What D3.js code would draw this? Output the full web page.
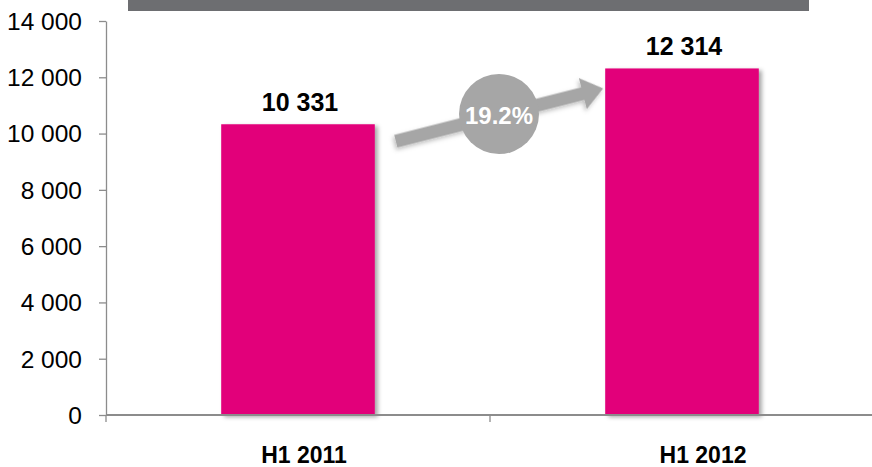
<!DOCTYPE html>
<html>
<head>
<meta charset="utf-8">
<script src="https://cdn.jsdelivr.net/npm/d3@7"></script>
<style>
  html, body { margin: 0; padding: 0; background: #fff; }
  svg { display: block; font-family: Arial, "Liberation Sans", sans-serif; }
</style>
</head>
<body>
<svg id="chart" width="872" height="467"></svg>
<script>
// Half-year totals
const categories = ["H1 2011", "H1 2012"];
const values = [10331, 12314];
const yTicks = [0, 2000, 4000, 6000, 8000, 10000, 12000, 14000];

const W = 872, H = 467;
const mLeft = 106, mRight = 874, mTop = 21, mBottom = 415;
const FONT = "Arial, 'Liberation Sans', sans-serif";

const svg = d3.select("#chart");

const defs = svg.append("defs");
const shadow = defs.append("filter").attr("id", "barShadow")
  .attr("x", "-10%").attr("y", "-10%").attr("width", "130%").attr("height", "130%");
shadow.append("feDropShadow").attr("dx", 3).attr("dy", 2).attr("stdDeviation", 2.2)
  .attr("flood-color", "#000").attr("flood-opacity", 0.35);
const arrowShadow = defs.append("filter").attr("id", "arrowShadow")
  .attr("x", "-20%").attr("y", "-40%").attr("width", "140%").attr("height", "180%");
arrowShadow.append("feDropShadow").attr("dx", -2).attr("dy", 2).attr("stdDeviation", 2)
  .attr("flood-color", "#000").attr("flood-opacity", 0.25);

const fmt = v => d3.format(",")(v).replace(/,/g, " ");

const x = d3.scaleBand().domain(categories).range([mLeft, mRight])
  .paddingInner(0.6).paddingOuter(0.3);
const xOuter = d3.scaleBand().domain(categories).range([mLeft, mRight]).padding(0);
// category captions sit on a slightly wider spacing than the bars
const xLabel = d3.scaleBand().domain(categories).range([104.5, 902.5]).padding(0);
const y = d3.scaleLinear().domain([0, 14000]).range([mBottom, mTop]);

// header strip
svg.append("rect").attr("x", 128).attr("y", 0).attr("width", 681).attr("height", 11)
  .attr("fill", "#6d6e71");

// y axis
const yAxis = svg.append("g").attr("transform", `translate(${mLeft},0)`)
  .call(d3.axisLeft(y).tickValues(yTicks).tickFormat(fmt).tickSize(7).tickSizeOuter(0));
yAxis.select(".domain").attr("stroke", "#8c8c8c").attr("stroke-width", 1.3);
yAxis.selectAll(".tick line").attr("stroke", "#8c8c8c").attr("stroke-width", 1.3);
yAxis.selectAll(".tick text").attr("font-size", 24.5).attr("fill", "#000")
  .attr("x", -24).attr("dy", "0.34em").attr("font-family", FONT);

// bars
svg.selectAll("rect.bar").data(values).join("rect").attr("class", "bar")
  .attr("x", (d, i) => x(categories[i]))
  .attr("y", d => y(d))
  .attr("width", x.bandwidth())
  .attr("height", d => y(0) - y(d))
  .attr("fill", "#e2007a")
  .attr("filter", "url(#barShadow)");

// x axis with ticks at category boundaries
const xg = svg.append("g");
xg.append("line").attr("x1", mLeft).attr("x2", W).attr("y1", mBottom).attr("y2", mBottom)
  .attr("stroke", "#8c8c8c").attr("stroke-width", 2);
const boundaries = categories.map(c => xOuter(c));
xg.selectAll("line.tk").data(boundaries).join("line").attr("class", "tk")
  .attr("x1", d => d).attr("x2", d => d).attr("y1", mBottom).attr("y2", mBottom + 7)
  .attr("stroke", "#8c8c8c").attr("stroke-width", 1.3);
xg.selectAll("text").data(categories).join("text")
  .attr("x", d => xLabel(d) + xLabel.bandwidth() / 2).attr("y", 463)
  .attr("text-anchor", "middle").attr("font-weight", "bold").attr("font-size", 23)
  .text(d => d);

// value labels
svg.selectAll("text.val").data(values).join("text").attr("class", "val")
  .attr("x", (d, i) => x(categories[i]) + x.bandwidth() / 2 + 2)
  .attr("y", d => y(d) - 13.5)
  .attr("text-anchor", "middle").attr("font-weight", "bold").attr("font-size", 25)
  .text(d => fmt(d));

// growth arrow between the bars
const growth = (values[1] / values[0] - 1) * 100;
const x0 = x(categories[0]) + x.bandwidth() + 21, y0 = y(values[0]) + 17;
const x1 = x(categories[1]) - 2, y1 = y(values[1]) + 20;
const ang = Math.atan2(y1 - y0, x1 - x0) * 180 / Math.PI;
const len = Math.hypot(x1 - x0, y1 - y0);
const sw = 6.5, hl = 21, hw = 16;
const ag = svg.append("g").attr("transform", `translate(${x0},${y0}) rotate(${ang})`);
ag.append("path")
  .attr("d", `M0,${-sw} L${len - hl},${-sw} L${len - hl},${-hw} L${len},0 L${len - hl},${hw} L${len - hl},${sw} L0,${sw} Z`)
  .attr("fill", "#a6a6a6").attr("filter", "url(#arrowShadow)");

const cx = 499, cy = 114;
svg.append("circle").attr("cx", cx).attr("cy", cy).attr("r", 40).attr("fill", "#a6a6a6");
svg.append("text").attr("x", cx).attr("y", 124).attr("text-anchor", "middle")
  .attr("font-weight", "bold").attr("font-size", 24).attr("fill", "#fff")
  .text(growth.toFixed(1) + "%");
</script>
</body>
</html>
